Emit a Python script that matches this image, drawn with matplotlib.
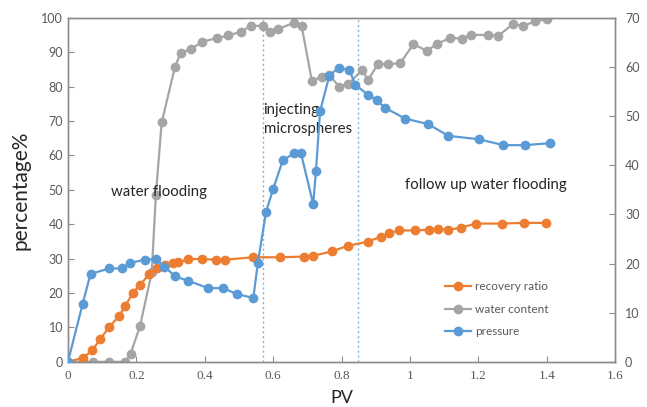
import matplotlib
matplotlib.use("Agg")
import matplotlib.pyplot as plt
from matplotlib.ticker import FixedLocator

# ---- data ----
rec_pv = [0, 0.043, 0.071, 0.094, 0.121, 0.150, 0.167, 0.189, 0.211, 0.238, 0.259, 0.284,
          0.308, 0.323, 0.352, 0.393, 0.433, 0.459, 0.542, 0.620, 0.691, 0.716, 0.771,
          0.820, 0.876, 0.915, 0.939, 0.969, 1.015, 1.054, 1.083, 1.112, 1.149, 1.192,
          1.269, 1.332, 1.397]
rec_val = [0, 1.1, 3.3, 6.6, 10.1, 13.4, 16.1, 20.0, 22.4, 25.5, 27.2, 28.2,
           28.7, 28.9, 29.9, 29.9, 29.7, 29.7, 30.4, 30.4, 30.6, 30.8, 32.1,
           33.8, 34.9, 36.4, 37.4, 38.2, 38.2, 38.4, 38.6, 38.4, 39.0, 40.2,
           40.2, 40.4, 40.4]

wc_pv = [0, 0.043, 0.074, 0.121, 0.167, 0.183, 0.211, 0.245, 0.257, 0.274, 0.313, 0.330,
         0.359, 0.393, 0.435, 0.469, 0.506, 0.535, 0.571, 0.591, 0.615, 0.661, 0.683,
         0.713, 0.742, 0.764, 0.793, 0.820, 0.859, 0.878, 0.906, 0.937, 0.971, 1.010,
         1.049, 1.080, 1.117, 1.151, 1.177, 1.229, 1.258, 1.302, 1.330, 1.365, 1.400]
wc_val = [0, 0, 0, 0, 0, 2.3, 10.5, 26.0, 48.5, 69.6, 85.8, 89.9,
          90.9, 93.1, 94.1, 94.9, 96.0, 97.7, 97.7, 95.8, 96.8, 98.6, 97.7,
          81.7, 82.9, 83.4, 80.0, 80.8, 84.8, 82.0, 86.6, 86.6, 86.8, 92.4,
          90.4, 92.5, 94.2, 94.0, 95.1, 95.0, 94.8, 98.3, 97.6, 99.0, 99.6]

pr_pv = [0, 0.043, 0.066, 0.121, 0.157, 0.181, 0.225, 0.257, 0.282, 0.313, 0.351, 0.410,
         0.454, 0.493, 0.542, 0.555, 0.579, 0.600, 0.628, 0.662, 0.681, 0.717, 0.725,
         0.737, 0.764, 0.791, 0.823, 0.840, 0.878, 0.902, 0.927, 0.986, 1.052, 1.112,
         1.201, 1.273, 1.336, 1.409]
pr_val = [0, 11.8, 17.9, 19.0, 19.0, 20.1, 20.8, 20.9, 19.4, 17.4, 16.5, 15.0,
          15.0, 13.8, 13.0, 20.1, 30.5, 35.2, 41.0, 42.5, 42.5, 32.1, 38.9,
          51.0, 58.2, 59.9, 59.4, 56.4, 54.3, 53.3, 51.7, 49.5, 48.4, 46.0,
          45.3, 44.1, 44.1, 44.5]

stage_lines = [0.57, 0.848]
x_ticks = [0, 0.2, 0.4, 0.6, 0.8, 1.0, 1.2, 1.4, 1.6]
x_ticklabels = ["0", "0.2", "0.4", "0.6", "0.8", "1", "1.2", "1.4", "1.6"]
left_ticks = list(range(0, 101, 10))
right_ticks = list(range(0, 71, 10))

c_or = "#ED7D31"
c_gr = "#A5A5A5"
c_bl = "#5B9BD5"
spine_c = "#8C8C8C"
lab_c = "#595959"

fig = plt.figure(figsize=(6.47, 4.07), dpi=100)
ax = fig.add_axes([0.105, 0.111, 0.846, 0.845])
ax2 = ax.twinx()

lw = 1.6
ms = 6
l_gr, = ax.plot(wc_pv, wc_val, color=c_gr, lw=lw, marker="o", ms=ms, zorder=2, label="water content")
l_or, = ax.plot(rec_pv, rec_val, color=c_or, lw=lw, marker="o", ms=ms, zorder=3, label="recovery ratio")
l_bl, = ax2.plot(pr_pv, pr_val, color=c_bl, lw=lw, marker="o", ms=ms, zorder=3, label="pressure")

for xv in stage_lines:
    ax.axvline(xv, color="#7FB2E0", lw=1.0, ls=(0, (1.5, 2)), zorder=1)

ax.set_xlim(0, 1.6)
ax.set_ylim(0, 100)
ax2.set_ylim(0, 70)
ax.xaxis.set_major_locator(FixedLocator(x_ticks))
ax.set_xticklabels(x_ticklabels, fontfamily="Liberation Serif", fontsize=9.5, color=lab_c)
ax.set_yticks(left_ticks)
ax.set_yticklabels([str(v) for v in left_ticks], fontfamily="Lato", fontsize=9, color=lab_c)
ax2.set_yticks(right_ticks)
ax2.set_yticklabels([str(v) for v in right_ticks], fontfamily="Lato", fontsize=9, color=lab_c)

for a in (ax, ax2):
    for s in a.spines.values():
        s.set_color(spine_c)
        s.set_linewidth(1.0)
    a.tick_params(direction="in", length=4, color=spine_c, width=0.8)
ax.tick_params(axis="x", pad=6)
ax2.tick_params(axis="y", pad=7)

ax.set_xlabel("PV", fontfamily="Lato", fontsize=13, color="#262626", labelpad=6)
ax.set_ylabel("percentage%", fontfamily="Lato", fontsize=15, color="#262626", labelpad=8)

txt_kw = dict(fontfamily="Lato", fontsize=10.8, color="#262626")
ax.text(0.266, 49.4, "water flooding", ha="center", va="center", **txt_kw)
ax.text(0.572, 70.5, "injecting\nmicrospheres", ha="left", va="center", linespacing=1.5, **txt_kw)
ax.text(0.985, 51.5, "follow up water flooding", ha="left", va="center", **txt_kw)

leg = ax2.legend([l_or, l_gr, l_bl], ["recovery ratio", "water content", "pressure"],
                 loc="lower left", bbox_to_anchor=(0.67, 0.04), frameon=False,
                 prop={"family": "Lato", "size": 8.5}, labelspacing=1.0,
                 handlelength=2.2, handletextpad=0.3, labelcolor=lab_c)

fig.savefig("out.png", dpi=100)
